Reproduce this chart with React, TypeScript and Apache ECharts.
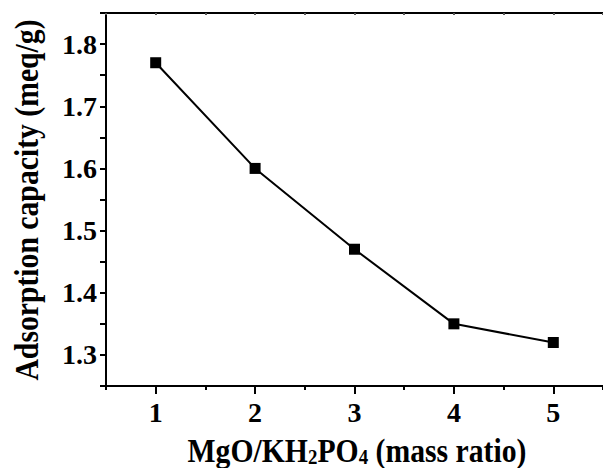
import { useEffect, useRef } from "react";
import * as echarts from "echarts";

const ratios = [1, 2, 3, 4, 5];
const capacity = [1.77, 1.6, 1.47, 1.35, 1.32];
const xTickValues = [1, 2, 3, 4, 5];
const yTickValues = [1.3, 1.4, 1.5, 1.6, 1.7, 1.8];
const xTitle = "MgO/KH{sub|2}PO{sub|4} (mass ratio)";
const yTitle = "Adsorption capacity (meq/g)";

export default function App() {
  const ref = useRef<HTMLDivElement>(null);
  useEffect(() => {
    const chart = echarts.init(ref.current!, null, { renderer: "svg" });
    const font = "Liberation Serif";
    const lineStyle = { color: "#000", width: 2 };
    chart.setOption({
      animation: false,
      backgroundColor: "#fff",
      textStyle: { fontFamily: font },
      grid: { left: 106, top: 13, width: 502, height: 373, containLabel: false },
      graphic: [
        {
          type: "text",
          x: 357,
          y: 467,
          scaleX: 0.9,
          style: {
            text: xTitle,
            fontFamily: font,
            fontWeight: "bold",
            fontSize: 33,
            lineHeight: 33,
            fill: "#000",
            align: "center",
            verticalAlign: "bottom",
            rich: {
              sub: {
                fontFamily: font,
                fontWeight: "bold",
                fontSize: 21,
                lineHeight: 13,
                fill: "#000",
                verticalAlign: "bottom",
              },
            },
          },
        },
        {
          type: "text",
          x: 27,
          y: 200,
          rotation: Math.PI / 2,
          scaleX: 0.9,
          style: {
            text: yTitle,
            fontFamily: font,
            fontWeight: "bold",
            fontSize: 33,
            fill: "#000",
            align: "center",
            verticalAlign: "middle",
          },
        },
      ],
      xAxis: [
        {
          type: "value",
          position: "bottom",
          min: 0.5,
          max: 5.5,
          interval: 0.5,
          axisLine: { lineStyle },
          axisTick: {
            show: true,
            inside: false,
            length: 8,
            lineStyle,
            customValues: xTickValues,
          },
          axisLabel: {
            customValues: xTickValues,
            margin: 12,
            fontFamily: font,
            fontWeight: "bold",
            fontSize: 28,
            color: "#000",
            formatter: (v: number) => String(v),
          },
          splitLine: { show: false },
        },
        {
          type: "value",
          position: "bottom",
          min: 0.5,
          max: 5.5,
          interval: 0.5,
          axisLine: { show: false },
          axisTick: { show: true, inside: false, length: 4, lineStyle },
          axisLabel: { show: false },
          splitLine: { show: false },
        },
        {
          type: "value",
          position: "top",
          min: 0.5,
          max: 5.5,
          interval: 0.5,
          axisLine: { lineStyle },
          axisTick: { show: true, inside: true, length: 2, lineStyle: { color: "#555", width: 2 } },
          axisLabel: { show: false },
          splitLine: { show: false },
        },
      ],
      yAxis: {
        type: "value",
        min: 1.25,
        max: 1.85,
        interval: 0.05,
        axisLine: { lineStyle },
        axisTick: { show: true, inside: false, length: 6, lineStyle },
        axisLabel: {
          margin: 9,
          fontFamily: font,
          fontWeight: "bold",
          fontSize: 28,
          color: "#000",
          formatter: (v: number) => {
            const r = Math.round(v * 100);
            return yTickValues.some((t) => Math.round(t * 100) === r) ? (r / 100).toFixed(1) : "";
          },
        },
        splitLine: { show: false },
      },
      series: [
        {
          type: "line",
          xAxisIndex: 0,
          data: ratios.map((x, i) => [x, capacity[i]]),
          symbol: "rect",
          symbolSize: 11,
          lineStyle: { color: "#000", width: 2 },
          itemStyle: { color: "#000" },
        },
      ],
    });
    return () => chart.dispose();
  }, []);
  return (
    <div
      ref={ref}
      style={{ position: "absolute", left: 0, top: 0, width: 603, height: 468, background: "#fff" }}
    />
  );
}
